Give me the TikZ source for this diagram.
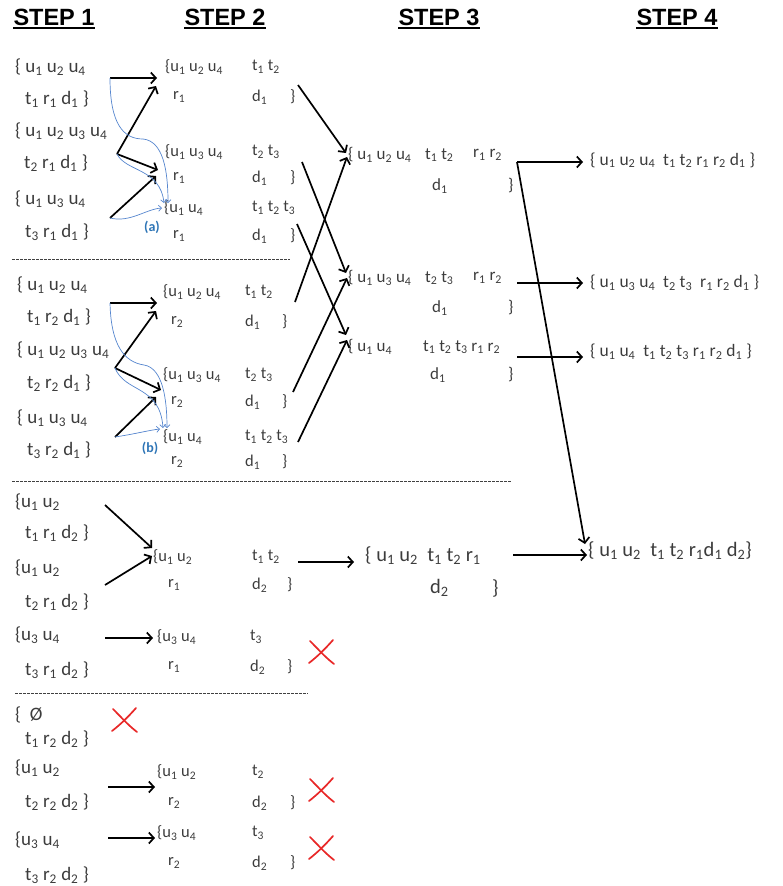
\documentclass[tikz,border=0pt]{standalone}
\usepackage{fontspec}
\setmainfont{Carlito}
\newfontfamily\headfont{Liberation Sans}
\usetikzlibrary{arrows.meta}
\definecolor{txtc}{RGB}{60,60,60}
\definecolor{bluec}{RGB}{86,134,206}
\definecolor{labc}{RGB}{46,117,182}
\definecolor{redc}{RGB}{232,40,40}
\newcommand\qu[1]{u\textsubscript{#1}}
\newcommand\qt[1]{t\textsubscript{#1}}
\newcommand\qr[1]{r\textsubscript{#1}}
\newcommand\qd[1]{d\textsubscript{#1}}
\tikzset{
  tx/.style={anchor=west, inner sep=0pt, text=txtc},
  sa/.style={tx, font=\fontsize{19}{21}\selectfont},
  sb/.style={tx, font=\fontsize{16.5}{18}\selectfont},
  sc/.style={tx, font=\fontsize{17}{19}\selectfont},
  sd/.style={tx, font=\fontsize{17.5}{19}\selectfont},
  big/.style={tx, font=\fontsize{20.5}{22}\selectfont},
  hd/.style={inner sep=0pt, font=\headfont\bfseries\fontsize{23.5}{25}\selectfont},
  ul/.style={line width=1.6pt},
  arr/.style={line width=1.7pt, -{Straight Barb[length=5pt,width=11pt]}},
  barr/.style={draw=bluec, line width=0.7pt, -{Straight Barb[length=3pt,width=6pt]}},
  lab/.style={inner sep=0pt, text=labc, font=\bfseries\fontsize{14}{16}\selectfont},
  sep/.style={line width=0.6pt, dash pattern=on 2.5pt off 1.5pt, draw=black!75},
  redx/.style={draw=redc, line width=1.7pt, line cap=round},
  xmark/.pic={\draw[redx] (-12,-11) .. controls (-3,-2) and (3,5) .. (12,12);
              \draw[redx] (11,-12) .. controls (3,-3) and (-4,4) .. (-13,11);}
}
\begin{document}
\begin{tikzpicture}[x=1pt,y=-1pt]
\useasboundingbox (0,0) rectangle (782,886);
% headers
\node[hd] (h1) at (54,17) {STEP 1};
\node[hd] (h2) at (225,17) {STEP 2};
\node[hd] (h3) at (439,17) {STEP 3};
\node[hd] (h4) at (677,17) {STEP 4};
\foreach \h in {h1,h2,h3,h4}
  \draw[ul] ([yshift=-3pt]\h.base west) -- ([yshift=-3pt]\h.base east);

% ---------- group 1 : step 1
\node[sa] (a1) at (15,67) {\{ \qu1 \qu2 \qu4};
\node[sa] (a1b) at (25,99) {\qt1 \qr1 \qd1 \}};
\node[sa] (a2) at (15,131) {\{ \qu1 \qu2 \qu3 \qu4};
\node[sa] (a2b) at (24,163) {\qt2 \qr1 \qd1 \}};
\node[sa] (a3) at (15,199) {\{ \qu1 \qu3 \qu4};
\node[sa] (a3b) at (25,232) {\qt3 \qr1 \qd1 \}};
% group 1 : step 2
\node[sb] (b1) at (165,67) {\{\qu1 \qu2 \qu4};
\node[sb] (b1t) at (252,67) {\qt1 \qt2};
\node[sb] (b1r) at (173,97) {\qr1};
\node[sb] (b1d) at (252,97) {\qd1};
\node[sb] (b1c) at (290,97) {\}};
\node[sb] (b2) at (165,152) {\{\qu1 \qu3 \qu4};
\node[sb] (b2t) at (252,152) {\qt2 \qt3};
\node[sb] (b2r) at (173,178) {\qr1};
\node[sb] (b2d) at (252,178) {\qd1};
\node[sb] (b2c) at (290,178) {\}};
\node[sb] (b3) at (164,208) {\{\qu1 \qu4};
\node[sb] (b3t) at (252,208) {\qt1 \qt2 \qt3};
\node[sb] (b3r) at (173,236) {\qr1};
\node[sb] (b3d) at (252,236) {\qd1};
\node[sb] (b3c) at (290,236) {\}};
% group 1 arrows
\coordinate (p1) at (110,78);
\coordinate (j1) at (117,154);
\coordinate (p3) at (110,218);
\coordinate (e1a) at (157,78);
\coordinate (e1b) at (156,86);
\coordinate (e2a) at (158,170);
\coordinate (e2b) at (156,176);
\coordinate (bt1) at (168,203);
\coordinate (bt2) at (164,203);
\coordinate (bt3) at (162,208);
\draw[arr] (p1) -- (e1a);
\draw[arr] (j1) -- (e1b);
\draw[arr] (j1) -- (e2a);
\draw[arr] (p3) -- (e2b);
\draw[barr] (p1) .. controls (110,125) and (124,139) .. (143,139) .. controls (163,141) and (168,170) .. (bt1);
\draw[barr] (j1) .. controls (126,172) and (160,168) .. (bt2);
\draw[barr] (p3) .. controls (130,223) and (146,209) .. (bt3);
\node[lab] (la) at (152,227) {(a)};

\draw[sep] (12,259) -- (290,259);

% ---------- group 2 : step 1
\node[sa] (c1) at (17,285) {\{ \qu1 \qu2 \qu4};
\node[sa] (c1b) at (27,317) {\qt1 \qr2 \qd1 \}};
\node[sa] (c2) at (17,350) {\{ \qu1 \qu2 \qu3 \qu4};
\node[sa] (c2b) at (27,383) {\qt2 \qr2 \qd1 \}};
\node[sa] (c3) at (17,418) {\{ \qu1 \qu3 \qu4};
\node[sa] (c3b) at (27,450) {\qt3 \qr2 \qd1 \}};
% group 2 : step 2
\node[sb] (f1) at (163,292) {\{\qu1 \qu2 \qu4};
\node[sb] (f1t) at (245,292) {\qt1 \qt2};
\node[sb] (f1r) at (171,322) {\qr2};
\node[sb] (f1d) at (245,322) {\qd1};
\node[sb] (f1c) at (282,322) {\}};
\node[sb] (f2) at (163,375) {\{\qu1 \qu3 \qu4};
\node[sb] (f2t) at (245,375) {\qt2 \qt3};
\node[sb] (f2r) at (171,402) {\qr2};
\node[sb] (f2d) at (245,402) {\qd1};
\node[sb] (f2c) at (282,402) {\}};
\node[sb] (f3) at (163,437) {\{\qu1 \qu4};
\node[sb] (f3t) at (245,437) {\qt1 \qt2 \qt3};
\node[sb] (f3r) at (171,462) {\qr2};
\node[sb] (f3d) at (245,462) {\qd1};
\node[sb] (f3c) at (282,462) {\}};
% group 2 arrows
\coordinate (p4) at (110,303);
\coordinate (j2) at (115,368);
\coordinate (p6) at (115,437);
\coordinate (e4a) at (157,303);
\coordinate (e4b) at (156,311);
\coordinate (e5a) at (161,390);
\coordinate (e5b) at (156,397);
\coordinate (bt4) at (167,428);
\coordinate (bt5) at (163,428);
\coordinate (bt6) at (160,429);
\draw[arr] (p4) -- (e4a);
\draw[arr] (j2) -- (e4b);
\draw[arr] (j2) -- (e5a);
\draw[arr] (p6) -- (e5b);
\draw[barr] (p4) .. controls (111,345) and (124,362) .. (144,365) .. controls (163,368) and (167,400) .. (bt4);
\draw[barr] (j2) .. controls (125,393) and (160,385) .. (bt5);
\draw[barr] (p6) .. controls (135,434) and (150,430) .. (bt6);
\node[lab] (lb) at (150,448) {(b)};

\draw[sep] (12,481) -- (512,481);

% ---------- group 3 : step 1
\node[sa] (g1) at (15,502) {\{\qu1 \qu2};
\node[sa] (g1b) at (25,533) {\qt1 \qr1 \qd2 \}};
\node[sa] (g2) at (15,568) {\{\qu1 \qu2};
\node[sa] (g2b) at (25,602) {\qt2 \qr1 \qd2 \}};
\node[sa] (g3) at (15,635) {\{\qu3 \qu4};
\node[sa] (g3b) at (25,670) {\qt3 \qr1 \qd2 \}};
% group 3 : step 2
\node[sb] (m1) at (153,557) {\{\qu1 \qu2};
\node[sb] (m1t) at (252,557) {\qt1 \qt2};
\node[sb] (m1r) at (168,585) {\qr1};
\node[sb] (m1d) at (252,585) {\qd2};
\node[sb] (m1c) at (287,585) {\}};
\node[sb] (m2) at (157,637) {\{\qu3 \qu4};
\node[sb] (m2t) at (250,637) {\qt3};
\node[sb] (m2r) at (168,667) {\qr1};
\node[sb] (m2d) at (250,667) {\qd2};
\node[sb] (m2c) at (287,667) {\}};
\pic at (322,652) {xmark};
% group 3 arrows
\coordinate (p7) at (105,505);
\coordinate (p8) at (105,585);
\coordinate (p9) at (105,638);
\coordinate (e7) at (152,548);
\coordinate (e8) at (152,556);
\coordinate (e9) at (153,638);
\draw[arr] (p7) -- (e7);
\draw[arr] (p8) -- (e8);
\draw[arr] (p9) -- (e9);
% group 3 : step 3
\node[big] (s5) at (365,556) {\{ \qu1 \qu2 \ \qt1 \qt2 \qr1};
\node[big] (s5d) at (430,588) {\qd2};
\node[big] (s5c) at (492,588) {\}};
\coordinate (p10) at (298,562);
\coordinate (e10) at (354,562);
\draw[arr] (p10) -- (e10);
% group 3 : step 4
\node[big] (w4) at (588,551) {\{ \qu1 \qu2 \ \qt1 \qt2 \qr1\qd1 \qd2\}};
\coordinate (p11) at (513,555);
\coordinate (e11) at (587,555);
\draw[arr] (p11) -- (e11);

\draw[sep] (15,693) -- (308,693);

% ---------- group 4 : step 1
\node[sa] (k0) at (15,715) {\{ \ Ø};
\node[sa] (k0b) at (25,739) {\qt1 \qr2 \qd2 \}};
\pic at (125,720) {xmark};
\node[sa] (k1) at (15,768) {\{\qu1 \qu2};
\node[sa] (k1b) at (25,802) {\qt2 \qr2 \qd2 \}};
\node[sa] (k2) at (15,840) {\{\qu3 \qu4};
\node[sa] (k2b) at (25,875) {\qt3 \qr2 \qd2 \}};
% group 4 : step 2
\node[sb] (n1) at (157,772) {\{\qu1 \qu2};
\node[sb] (n1t) at (252,772) {\qt2};
\node[sb] (n1r) at (168,803) {\qr2};
\node[sb] (n1d) at (252,803) {\qd2};
\node[sb] (n1c) at (290,803) {\}};
\node[sb] (n2) at (157,833) {\{\qu3 \qu4};
\node[sb] (n2t) at (252,833) {\qt3};
\node[sb] (n2r) at (168,863) {\qr2};
\node[sb] (n2d) at (252,863) {\qd2};
\node[sb] (n2c) at (290,863) {\}};
\pic at (322,790) {xmark};
\pic at (322,848) {xmark};
\coordinate (p12) at (108,787);
\coordinate (p13) at (108,838);
\coordinate (e12) at (155,787);
\coordinate (e13) at (155,838);
\draw[arr] (p12) -- (e12);
\draw[arr] (p13) -- (e13);

% ---------- step 3 upper
\node[sc] (q1) at (348,155) {\{ \qu1 \qu2 \qu4};
\node[sc] (q1t) at (425,155) {\qt1 \qt2};
\node[sc] (q1r) at (473,155) {\qr1 \qr2};
\node[sc] (q1d) at (432,186) {\qd1};
\node[sc] (q1c) at (508,186) {\}};
\node[sc] (q2) at (348,278) {\{ \qu1 \qu3 \qu4};
\node[sc] (q2t) at (425,278) {\qt2 \qt3};
\node[sc] (q2r) at (473,278) {\qr1 \qr2};
\node[sc] (q2d) at (432,308) {\qd1};
\node[sc] (q2c) at (508,308) {\}};
\node[sc] (q3) at (348,347) {\{ \qu1 \qu4};
\node[sc] (q3t) at (423,347) {\qt1 \qt2 \qt3 \qr1 \qr2};
\node[sc] (q3d) at (430,375) {\qd1};
\node[sc] (q3c) at (508,375) {\}};
% crossing arrows step 2 -> step 3
\coordinate (x1) at (298,85);
\coordinate (x2) at (302,162);
\coordinate (x3) at (297,224);
\coordinate (x4) at (295,302);
\coordinate (x5) at (293,392);
\coordinate (x6) at (298,442);
\coordinate (y1) at (346,153);
\coordinate (y2) at (346,273);
\coordinate (y3) at (346,335);
\coordinate (y4) at (347,157);
\coordinate (y5) at (347,278);
\coordinate (y6) at (347,340);
\draw[arr] (x1) -- (y1);
\draw[arr] (x2) -- (y2);
\draw[arr] (x3) -- (y3);
\draw[arr] (x4) -- (y4);
\draw[arr] (x5) -- (y5);
\draw[arr] (x6) -- (y6);

% ---------- step 4 upper
\node[sd] (r1) at (590,160) {\{ \qu1 \qu2 \qu4 \ \qt1 \qt2 \qr1 \qr2 \qd1 \}};
\node[sd] (r2) at (590,283) {\{ \qu1 \qu3 \qu4 \ \qt2 \qt3 \ \qr1 \qr2 \qd1 \}};
\node[sd] (r3) at (590,352) {\{ \qu1 \qu4 \ \qt1 \qt2 \qt3 \qr1 \qr2 \qd1 \}};
\coordinate (v1) at (517,162);
\coordinate (v2) at (517,283);
\coordinate (v3) at (517,357);
\coordinate (z1) at (583,162);
\coordinate (z2) at (583,283);
\coordinate (z3) at (583,357);
\coordinate (z4) at (585,544);
\draw[arr] (v1) -- (z1);
\draw[arr] (v2) -- (z2);
\draw[arr] (v3) -- (z3);
\draw[arr] (v1) -- (z4);
\end{tikzpicture}
\end{document}
